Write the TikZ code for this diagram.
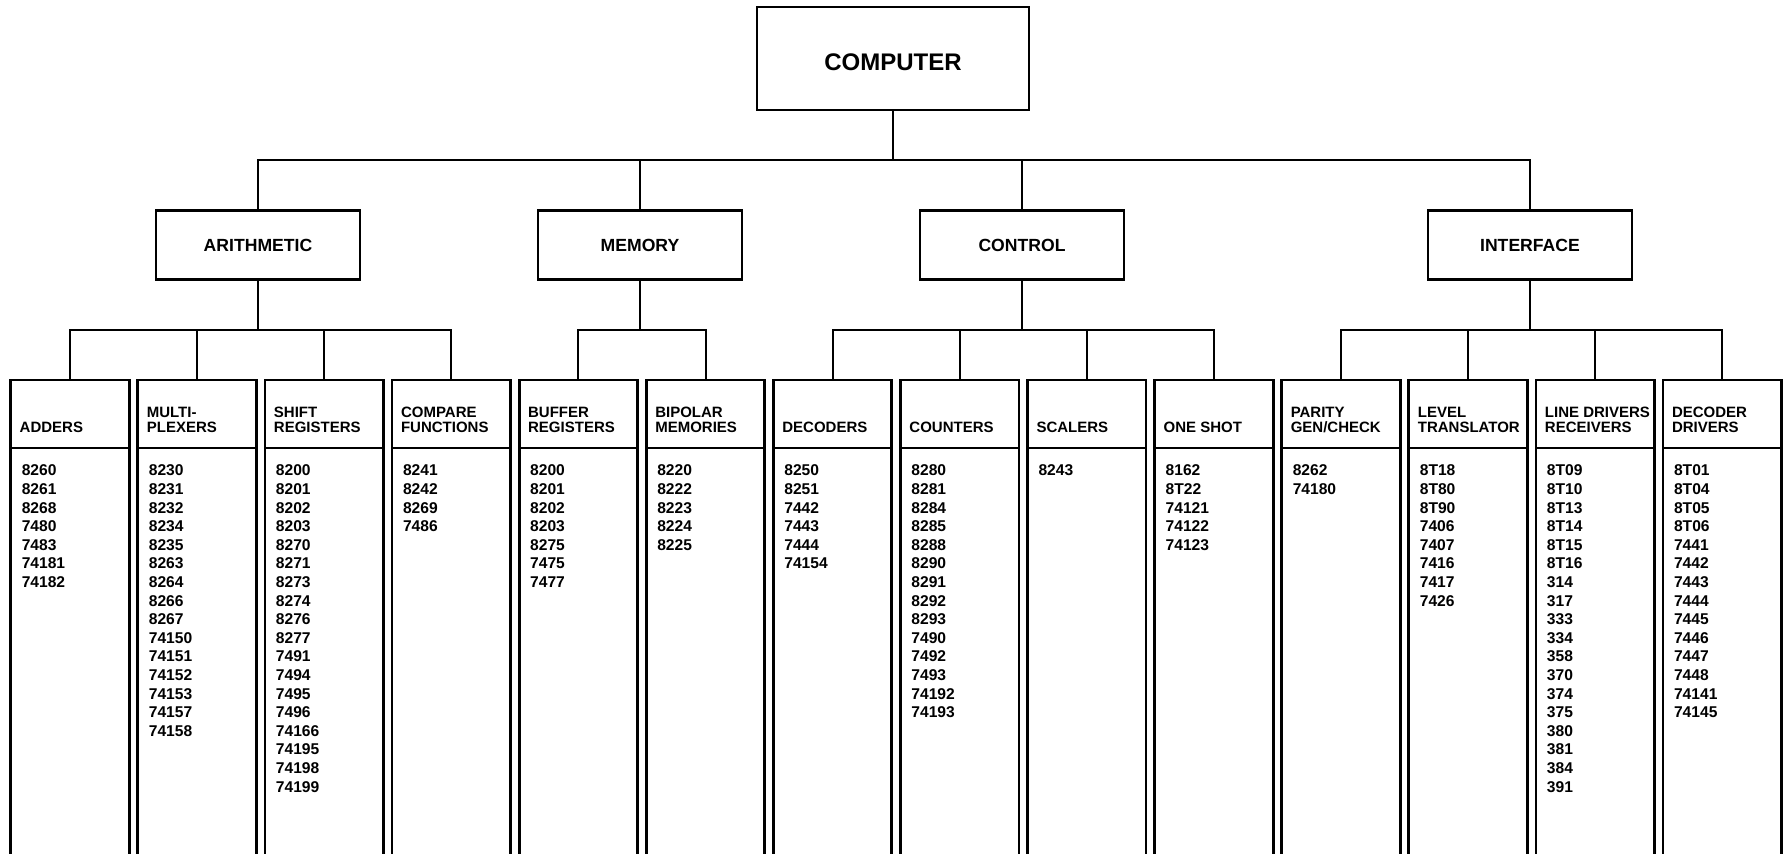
\documentclass[tikz,border=0pt]{standalone}
\usepackage{fontspec}
\setmainfont{Liberation Sans}
\usetikzlibrary{calc}
\newcommand\colbox[4]{%
  \node[hdrbox] (#2) at ({70+127.1*#1},414) {};
  \draw[colline] (#2.south west) -- ++(0,430);
  \draw[colline] (#2.south east) -- ++(0,430);
  \node[hdrtext] (#2-h) at ($(#2.south west)+(9,-15)$)
    {\begin{tabular}[b]{@{}l@{}}#3\end{tabular}};
  \node[numtext] (#2-n) at ($(#2.south west)+(11,28)$)
    {\begin{tabular}[t]{@{}l@{}}#4\end{tabular}};
}
\newcommand\tree[2]{%
  \draw[conn] (#1.south) |- ($(#1.south)!0.5!(#2.north)$) -| (#2.north);
}
\begin{document}
\begin{tikzpicture}[x=0.5pt,y=-0.5pt,
  every node/.style={outer sep=0pt},
  topbox/.style={draw,line width=1.2pt,minimum width=136pt,minimum height=51.5pt,inner sep=0pt,
     text height=12.1pt,text depth=0pt,
     font=\fontsize{12}{14}\selectfont\bfseries},
  midbox/.style={draw,line width=1.2pt,minimum width=102pt,minimum height=34.5pt,inner sep=0pt,
     font=\fontsize{8.8}{10}\selectfont\bfseries},
  hdrbox/.style={draw,line width=1.4pt,minimum width=59.25pt,minimum height=34pt,inner sep=0pt},
  colline/.style={line width=1.4pt},
  hdrtext/.style={anchor=base west,inner sep=0pt,font=\fontsize{7.5}{7.8}\selectfont\bfseries},
  numtext/.style={anchor=base west,inner sep=0pt,font=\fontsize{7.8}{9.3}\selectfont\bfseries},
  conn/.style={line width=1pt,line cap=rect}]
\useasboundingbox (0,0) rectangle (1789,854);
\fill[white] (0,0) rectangle (1789,854);

\node[topbox] (computer) at (893,58.5) {COMPUTER};
\node[midbox] (arith) at (258,245) {ARITHMETIC};
\node[midbox] (memory) at (640,245) {MEMORY};
\node[midbox] (control) at (1022,245) {CONTROL};
\node[midbox] (interface) at (1530,245) {INTERFACE};

\colbox{0}{adders}{ADDERS}{8260\\8261\\8268\\7480\\7483\\74181\\74182}
\colbox{1}{mux}{MULTI-\\PLEXERS}{8230\\8231\\8232\\8234\\8235\\8263\\8264\\8266\\8267\\74150\\74151\\74152\\74153\\74157\\74158}
\colbox{2}{shift}{SHIFT\\REGISTERS}{8200\\8201\\8202\\8203\\8270\\8271\\8273\\8274\\8276\\8277\\7491\\7494\\7495\\7496\\74166\\74195\\74198\\74199}
\colbox{3}{compare}{COMPARE\\FUNCTIONS}{8241\\8242\\8269\\7486}
\colbox{4}{buffer}{BUFFER\\REGISTERS}{8200\\8201\\8202\\8203\\8275\\7475\\7477}
\colbox{5}{bipolar}{BIPOLAR\\MEMORIES}{8220\\8222\\8223\\8224\\8225}
\colbox{6}{decoders}{DECODERS}{8250\\8251\\7442\\7443\\7444\\74154}
\colbox{7}{counters}{COUNTERS}{8280\\8281\\8284\\8285\\8288\\8290\\8291\\8292\\8293\\7490\\7492\\7493\\74192\\74193}
\colbox{8}{scalers}{SCALERS}{8243}
\colbox{9}{oneshot}{ONE SHOT}{8162\\8T22\\74121\\74122\\74123}
\colbox{10}{parity}{PARITY\\GEN/CHECK}{8262\\74180}
\colbox{11}{level}{LEVEL\\TRANSLATOR}{8T18\\8T80\\8T90\\7406\\7407\\7416\\7417\\7426}
\colbox{12}{line}{LINE DRIVERS\\RECEIVERS}{8T09\\8T10\\8T13\\8T14\\8T15\\8T16\\314\\317\\333\\334\\358\\370\\374\\375\\380\\381\\384\\391}
\colbox{13}{decdrv}{DECODER\\DRIVERS}{8T01\\8T04\\8T05\\8T06\\7441\\7442\\7443\\7444\\7445\\7446\\7447\\7448\\74141\\74145}

\tree{computer}{arith}
\tree{computer}{memory}
\tree{computer}{control}
\tree{computer}{interface}

\tree{arith}{adders}
\tree{arith}{mux}
\tree{arith}{shift}
\tree{arith}{compare}
\tree{memory}{buffer}
\tree{memory}{bipolar}
\tree{control}{decoders}
\tree{control}{counters}
\tree{control}{scalers}
\tree{control}{oneshot}
\tree{interface}{parity}
\tree{interface}{level}
\tree{interface}{line}
\tree{interface}{decdrv}
\end{tikzpicture}
\end{document}
